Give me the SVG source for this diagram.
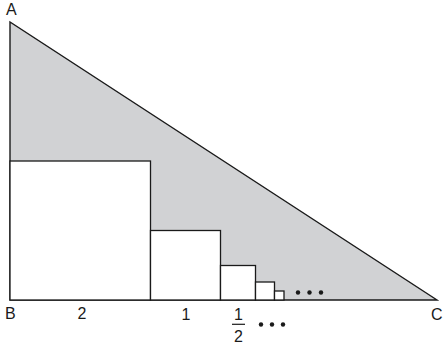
<svg xmlns="http://www.w3.org/2000/svg" width="443" height="350" viewBox="0 0 443 350">
<style>
.tri{fill:#d1d2d4;stroke:#1a1a1a;stroke-width:1.4;stroke-linejoin:miter}
.sq{fill:#ffffff;stroke:#1a1a1a;stroke-width:1.3}
.lbl{font-family:"Liberation Sans",Arial,sans-serif;font-size:16px;fill:#1a1a1a}
.dot{fill:#1a1a1a}
</style>
<rect width="443" height="350" fill="#ffffff"/>
<g id="triangle">
<polygon class="tri" points="10,22 10,300 437,300"/>
</g>
<g id="squares">
<rect id="sq1" class="sq" x="10" y="161" width="140.5" height="139"/>
<rect id="sq2" class="sq" x="150.5" y="230.5" width="70" height="69.5"/>
<rect id="sq3" class="sq" x="220.5" y="265.5" width="35" height="34.5"/>
<rect id="sq4" class="sq" x="255.5" y="282" width="19" height="18"/>
<rect id="sq5" class="sq" x="274.5" y="291" width="9.5" height="9"/>
</g>
<g id="dots-inside">
<circle class="dot" cx="298" cy="292.5" r="2.2"/>
<circle class="dot" cx="309.5" cy="292.5" r="2.2"/>
<circle class="dot" cx="321" cy="292.5" r="2.2"/>
</g>
<g id="labels">
<text class="lbl" x="6" y="15">A</text>
<text class="lbl" x="5" y="318.5">B</text>
<text class="lbl" x="431" y="319.5">C</text>
<text class="lbl" x="82" y="318.5" text-anchor="middle">2</text>
<text class="lbl" x="186" y="319.5" text-anchor="middle">1</text>
<text class="lbl" x="238.5" y="320" text-anchor="middle">1</text>
<line x1="232" y1="324.3" x2="245" y2="324.3" stroke="#1a1a1a" stroke-width="1.2"/>
<text class="lbl" x="238.5" y="342" text-anchor="middle">2</text>
<circle class="dot" cx="261" cy="324.5" r="2.2"/>
<circle class="dot" cx="272" cy="324.5" r="2.2"/>
<circle class="dot" cx="283" cy="324.5" r="2.2"/>
</g>
</svg>
